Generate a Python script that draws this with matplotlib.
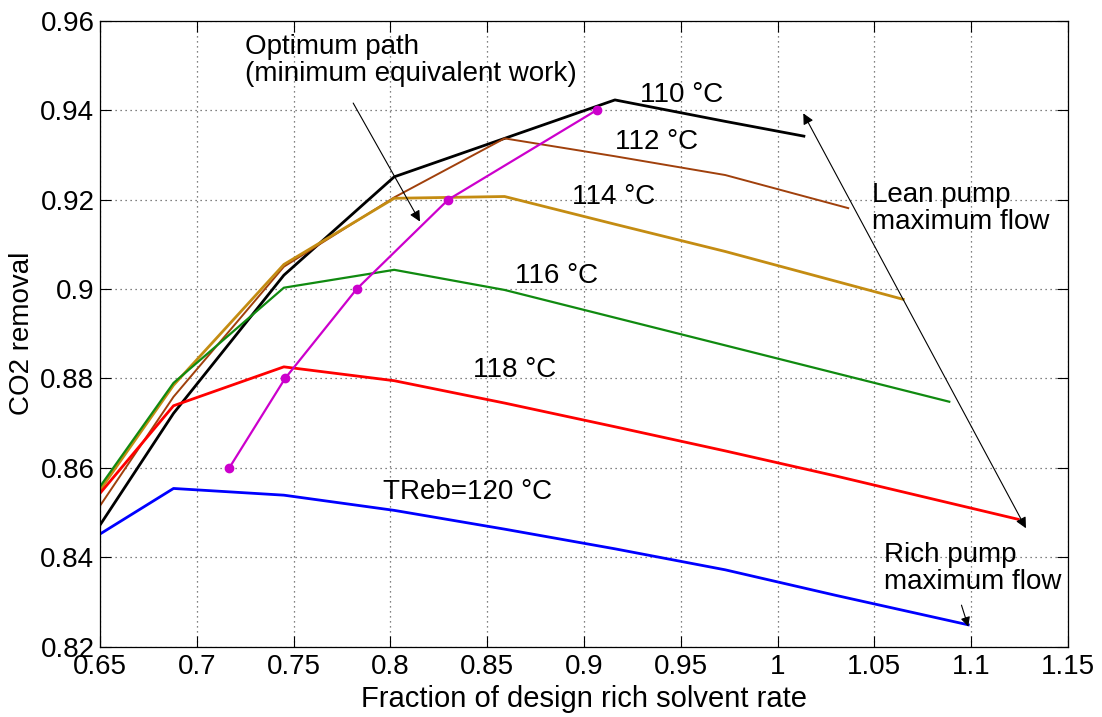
import matplotlib
matplotlib.use("Agg")
import matplotlib.pyplot as plt

plt.rcParams['font.family'] = ['Liberation Sans', 'DejaVu Sans']

# ---- data ----
x_110 = [0.65, 0.688, 0.745, 0.802, 0.859, 0.916, 0.973, 1.0136]
y_110 = [0.8472, 0.8722, 0.9031, 0.9251, 0.9337, 0.9423, 0.9375, 0.9342]

x_112 = [0.65, 0.688, 0.745, 0.802, 0.859, 0.916, 0.973, 1.0365]
y_112 = [0.8515, 0.8759, 0.9050, 0.9205, 0.9337, 0.9297, 0.9255, 0.9181]

x_114 = [0.65, 0.688, 0.745, 0.802, 0.859, 0.916, 0.973, 1.0649]
y_114 = [0.8550, 0.8785, 0.9055, 0.9203, 0.9207, 0.9145, 0.9084, 0.8977]

x_116 = [0.65, 0.688, 0.745, 0.802, 0.859, 0.916, 0.973, 1.0887]
y_116 = [0.8558, 0.8790, 0.9003, 0.9043, 0.8998, 0.8936, 0.8874, 0.8748]

x_118 = [0.65, 0.688, 0.745, 0.802, 0.859, 0.916, 0.973, 1.030, 1.1243]
y_118 = [0.8543, 0.8739, 0.8826, 0.8795, 0.8745, 0.8692, 0.8638, 0.8582, 0.8485]

x_120 = [0.65, 0.688, 0.745, 0.802, 0.859, 0.916, 0.973, 1.030, 1.0985]
y_120 = [0.8452, 0.8554, 0.8539, 0.8505, 0.8463, 0.8419, 0.8372, 0.8315, 0.8249]

x_opt = [0.7168, 0.7456, 0.7826, 0.8299, 0.9065]
y_opt = [0.86, 0.88, 0.90, 0.92, 0.94]

x_ticks = [0.65, 0.7, 0.75, 0.8, 0.85, 0.9, 0.95, 1.0, 1.05, 1.1, 1.15]
x_ticklabels = ['0.65', '0.7', '0.75', '0.8', '0.85', '0.9', '0.95', '1', '1.05', '1.1', '1.15']
y_ticks = [0.82, 0.84, 0.86, 0.88, 0.9, 0.92, 0.94, 0.96]
y_ticklabels = ['0.82', '0.84', '0.86', '0.88', '0.9', '0.92', '0.94', '0.96']

# ---- figure ----
fig = plt.figure(figsize=(11.02, 7.17), dpi=100)
ax = fig.add_axes([0.0907, 0.098, 0.9691 - 0.0907, 0.971 - 0.098])

ax.plot(x_110, y_110, color='black', lw=2.0)
ax.plot(x_112, y_112, color='#A0400C', lw=1.4)
ax.plot(x_114, y_114, color='#C48C12', lw=2.0)
ax.plot(x_116, y_116, color='#108A10', lw=1.6)
ax.plot(x_118, y_118, color='#FF0000', lw=2.0)
ax.plot(x_120, y_120, color='#0000FF', lw=2.0)
ax.plot(x_opt, y_opt, color='#CC00CC', lw=1.6, marker='o', markersize=6)

ax.set_xlim(0.65, 1.15)
ax.set_ylim(0.82, 0.96)
ax.set_xticks(x_ticks)
ax.set_xticklabels(x_ticklabels, fontsize=20)
ax.set_yticks(y_ticks)
ax.set_yticklabels(y_ticklabels, fontsize=20)
ax.tick_params(direction='in', length=8, width=0.8, top=True, right=True)
ax.tick_params(axis='x', pad=5)
ax.tick_params(axis='y', pad=4)
ax.grid(True, color='0.35', linestyle=(0, (1, 3)), lw=0.9)
for s in ax.spines.values():
    s.set_linewidth(0.9)

ax.set_xlabel('Fraction of design rich solvent rate', fontsize=21, labelpad=4)
ax.set_ylabel('CO2 removal', fontsize=20, labelpad=4)

fs = 20
ax.text(0.9289, 0.9434, '110 °C', fontsize=fs, va='center', ha='left')
ax.text(0.9160, 0.9330, '112 °C', fontsize=fs, va='center', ha='left')
ax.text(0.8936, 0.9205, '114 °C', fontsize=fs, va='center', ha='left')
ax.text(0.8644, 0.9029, '116 °C', fontsize=fs, va='center', ha='left')
ax.text(0.8428, 0.8819, '118 °C', fontsize=fs, va='center', ha='left')
ax.text(0.7963, 0.8547, 'TReb=120 °C', fontsize=fs, va='center', ha='left')
ax.text(0.7249, 0.9512, 'Optimum path\n(minimum equivalent work)', fontsize=fs,
        va='center', ha='left', linespacing=1.05)
ax.text(1.0486, 0.9181, 'Lean pump\nmaximum flow', fontsize=fs,
        va='center', ha='left', linespacing=1.05)
ax.text(1.0549, 0.8374, 'Rich pump\nmaximum flow', fontsize=fs,
        va='center', ha='left', linespacing=1.05)

ax.annotate('', xy=(0.8153, 0.9151), xytext=(0.7808, 0.9416),
            arrowprops=dict(arrowstyle='-|>', lw=0.8, color='black',
                            mutation_scale=16, shrinkA=0, shrinkB=0))
ax.annotate('', xy=(1.1283, 0.8465), xytext=(1.0133, 0.9393),
            arrowprops=dict(arrowstyle='<|-|>', lw=0.8, color='black',
                            mutation_scale=16, shrinkA=0, shrinkB=0))
ax.annotate('', xy=(1.0985, 0.8245), xytext=(1.0950, 0.8293),
            arrowprops=dict(arrowstyle='-|>', lw=0.8, color='black',
                            mutation_scale=14, shrinkA=0, shrinkB=0))

fig.savefig('out.png', dpi=100)
